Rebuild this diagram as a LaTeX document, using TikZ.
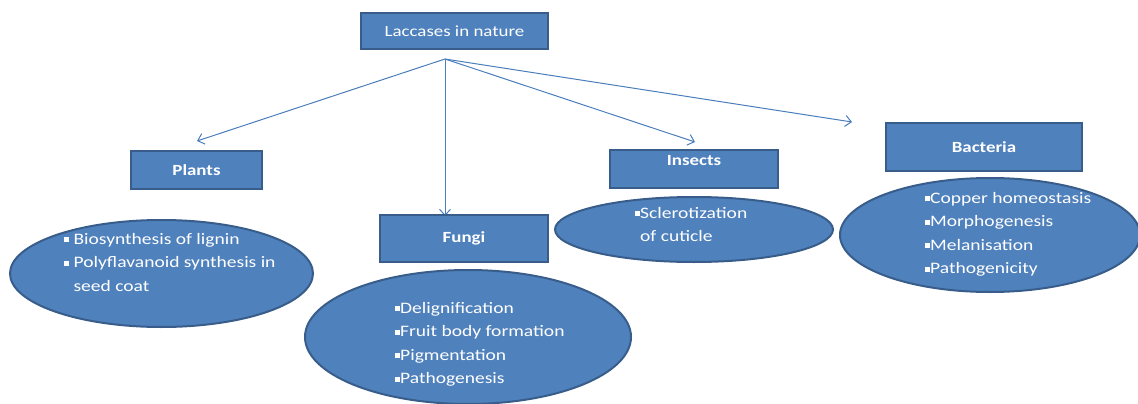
\documentclass[tikz,border=0pt]{standalone}
\usepackage{fontspec}
\setmainfont[FakeStretch=1.22]{Carlito}
\usetikzlibrary{arrows.meta}
\usetikzlibrary{shapes.geometric}

\definecolor{boxfill}{HTML}{4F81BD}
\definecolor{boxline}{HTML}{385D8A}
\definecolor{arrowcol}{HTML}{4A7EBB}

% small square bullet
\newcommand{\sqbullet}{\rule[2pt]{5pt}{5pt}}

\tikzset{
  kingdom/.style={rectangle, draw=boxline, line width=2pt, fill=boxfill, text=white,
    font=\bfseries\fontsize{15.5}{18}\selectfont},
  roles/.style={ellipse, draw=boxline, line width=2pt, fill=boxfill, inner sep=0pt},
  rolestext/.style={text=white, align=left, anchor=north west, inner sep=0pt,
    font=\fontsize{16}{23.5}\selectfont},
  branch/.style={draw=arrowcol, line width=1pt, -{Straight Barb[length=6pt,width=11pt]}}
}

\begin{document}
\begin{tikzpicture}[x=1pt,y=-1pt]
  \useasboundingbox (0,0) rectangle (1138,404);

  % Top box
  \node[kingdom, font=\fontsize{15.5}{18}\selectfont, minimum width=187pt, minimum height=36pt]
    (nature) at (454.5,31) {Laccases in nature};
  \coordinate (hub) at (445,59);

  % Arrow tips
  \coordinate (toplants) at (197,141);
  \coordinate (tofungi) at (445,216);
  \coordinate (toinsects) at (695,142);
  \coordinate (tobacteria) at (852,122);

  % Branches
  \draw[branch] (hub) -- (toplants);
  \draw[branch] (hub) -- (tofungi);
  \draw[branch] (hub) -- (toinsects);
  \draw[branch] (hub) -- (tobacteria);

  % Ellipses
  \node[roles, minimum width=303pt, minimum height=107pt] (plantroles) at (161.5,273.5) {};
  \node[roles, minimum width=326pt, minimum height=134pt] (fungiroles) at (468,337) {};
  \node[roles, minimum width=278pt, minimum height=65pt] (insectroles) at (694,229.5) {};
  \node[roles, minimum width=300pt, minimum height=114pt] (bacteriaroles) at (990,235) {};

  % Kingdom boxes
  \node[kingdom, minimum width=131pt, minimum height=38pt] (plants) at (196.5,170) {Plants};
  \node[kingdom, minimum width=168pt, minimum height=47pt] (fungi) at (464,238.5) {Fungi};
  \node[kingdom, minimum width=168pt, minimum height=38pt] (insects) at (694,169) {};
  \node[text=white, font=\bfseries\fontsize{15.5}{18}\selectfont] (insectname) at (694,161) {Insects};
  \node[kingdom, minimum width=196pt, minimum height=48pt] (bacteria) at (984,147) {Bacteria};

  % Role lists
  \node[rolestext] (plantlist) at (64,233)
    {\sqbullet\ Biosynthesis of lignin\\\sqbullet\ Polyflavanoid synthesis in\\\phantom{\sqbullet\ }seed coat};
  \node[rolestext] (fungilist) at (395,302)
    {\sqbullet Delignification\\\sqbullet Fruit body formation\\\sqbullet Pigmentation\\\sqbullet Pathogenesis};
  \node[rolestext] (insectlist) at (635,207)
    {\sqbullet Sclerotization\\\phantom{\sqbullet}of cuticle};
  \node[rolestext] (bacterialist) at (925,192)
    {\sqbullet Copper homeostasis\\\sqbullet Morphogenesis\\\sqbullet Melanisation\\\sqbullet Pathogenicity};
\end{tikzpicture}
\end{document}
